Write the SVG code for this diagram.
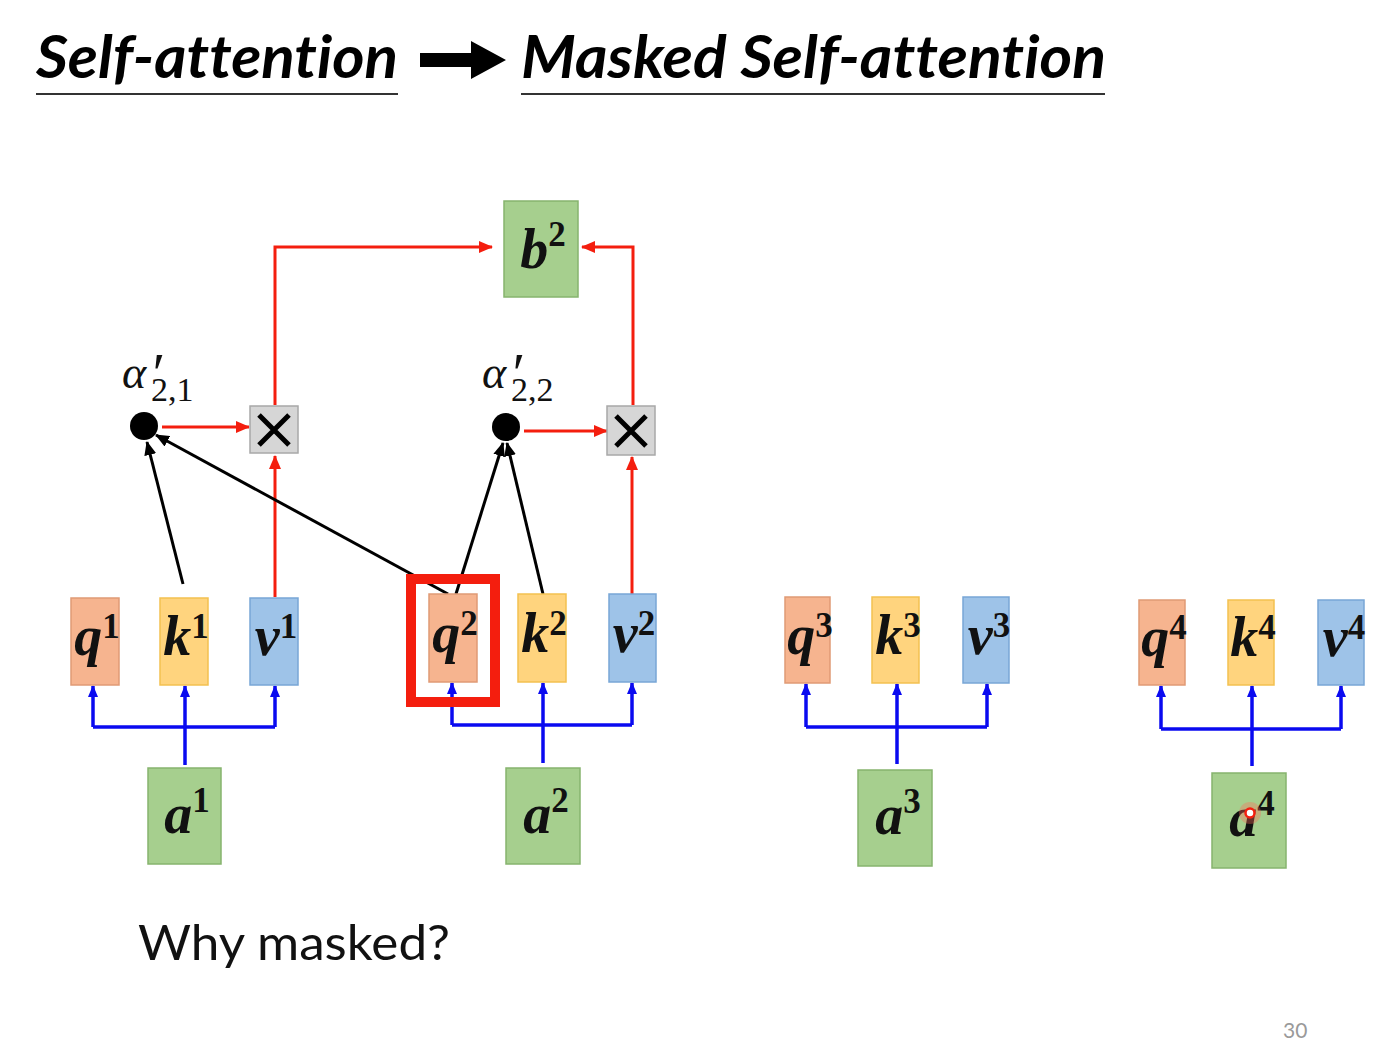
<svg xmlns="http://www.w3.org/2000/svg" width="1394" height="1052" viewBox="0 0 1394 1052">
<style>
.title{font-family:Lato,"Open Sans","Liberation Sans",sans-serif;font-weight:bold;font-style:italic;font-size:60px;fill:#000;font-variant-ligatures:none;font-feature-settings:"liga" 0,"dlig" 0}
.ul{stroke:#333;stroke-width:2}
.q{fill:#f6b48f;stroke:#e09a75;stroke-width:1.5}
.k{fill:#ffd47e;stroke:#f3c150;stroke-width:1.5}
.v{fill:#9ec3e8;stroke:#78a6d6;stroke-width:1.5}
.g{fill:#a6cf8e;stroke:#86b46e;stroke-width:1.5}
.x{fill:#d6d6d6;stroke:#a8a8a8;stroke-width:1.5}
.lbl{font-family:"Liberation Serif","DejaVu Serif",serif;font-weight:bold;font-style:italic;font-size:56px;fill:#111}
.sup{font-style:normal;font-size:35px}
.alpha{font-family:"Liberation Serif","DejaVu Serif",serif;font-style:italic;font-size:46px;fill:#111}
.prime{font-family:"Liberation Serif","DejaVu Serif",serif;font-style:italic;font-size:58px;fill:#111}
.sub{font-family:"Liberation Serif","DejaVu Serif",serif;font-size:34px;fill:#111}
.red{fill:none;stroke:#f41e0e;stroke-width:3}
.blk{fill:none;stroke:#000;stroke-width:3}
.blu{fill:none;stroke:#0a0af0;stroke-width:3.5}
.body{font-family:Lato,"Open Sans","Liberation Sans",sans-serif;font-size:48px;fill:#111}
</style>
<defs>
<marker id="ar" markerUnits="userSpaceOnUse" markerWidth="14" markerHeight="12" refX="13" refY="6" orient="auto"><path d="M0,0 L14,6 L0,12 Z" fill="#f41e0e"/></marker>
<marker id="ak" markerUnits="userSpaceOnUse" markerWidth="14" markerHeight="12" refX="13" refY="6" orient="auto"><path d="M0,0 L14,6 L0,12 Z" fill="#000"/></marker>
<marker id="ab" markerUnits="userSpaceOnUse" markerWidth="12" markerHeight="10" refX="11" refY="5" orient="auto"><path d="M0,0 L12,5 L0,10 Z" fill="#0a0af0"/></marker>
</defs>
<rect width="1394" height="1052" fill="#fff"/>

<g id="title">
<text class="title" x="36" y="78" textLength="362" lengthAdjust="spacingAndGlyphs">Self-attention</text>
<line class="ul" x1="36" y1="94" x2="398" y2="94"/>
<polygon points="420,53 471,53 471,41 506,60 471,79 471,67 420,67" fill="#000"/>
<text class="title" x="521" y="78" textLength="585" lengthAdjust="spacingAndGlyphs">Masked Self-attention</text>
<line class="ul" x1="521" y1="94" x2="1105" y2="94"/>
</g>

<g id="connectors">
<path class="red" d="M275,597 L275,456" marker-end="url(#ar)"/>
<path class="red" d="M162,427 L249,427" marker-end="url(#ar)"/>
<path class="red" d="M275,405 L275,247 L492,247" marker-end="url(#ar)"/>
<path class="red" d="M633,405 L633,247 L582,247" marker-end="url(#ar)"/>
<path class="red" d="M524,431 L607,431" marker-end="url(#ar)"/>
<path class="red" d="M632,594 L632,457" marker-end="url(#ar)"/>
<path class="blk" d="M183,584 L147,442" marker-end="url(#ak)"/>
<path class="blk" d="M448,594 L156,435" marker-end="url(#ak)"/>
<path class="blk" d="M456,594 L503,443" marker-end="url(#ak)"/>
<path class="blk" d="M543,594 L507,443" marker-end="url(#ak)"/>
<path class="blu" d="M93,727 L275,727"/>
<path class="blu" d="M185,765 L185,686" marker-end="url(#ab)"/>
<path class="blu" d="M93,727 L93,686" marker-end="url(#ab)"/>
<path class="blu" d="M275,727 L275,686" marker-end="url(#ab)"/>
<path class="blu" d="M452,725 L632,725"/>
<path class="blu" d="M543,763 L543,683" marker-end="url(#ab)"/>
<path class="blu" d="M452,725 L452,683" marker-end="url(#ab)"/>
<path class="blu" d="M632,725 L632,683" marker-end="url(#ab)"/>
<path class="blu" d="M806,727 L987,727"/>
<path class="blu" d="M897,764 L897,684" marker-end="url(#ab)"/>
<path class="blu" d="M806,727 L806,684" marker-end="url(#ab)"/>
<path class="blu" d="M987,727 L987,684" marker-end="url(#ab)"/>
<path class="blu" d="M1161,729 L1341,729"/>
<path class="blu" d="M1252,766 L1252,686" marker-end="url(#ab)"/>
<path class="blu" d="M1161,729 L1161,686" marker-end="url(#ab)"/>
<path class="blu" d="M1341,729 L1341,686" marker-end="url(#ab)"/>
</g>

<g id="b2"><rect class="g" x="504" y="201" width="74" height="96"/><text class="lbl" x="543" y="268" text-anchor="middle" font-size="60">b<tspan class="sup" dy="-22">2</tspan></text></g>

<g id="dot1"><circle cx="144" cy="426" r="14" fill="#000"/></g>
<g id="alpha21"><text class="alpha" x="122" y="388">α</text><text class="prime" x="149" y="393">′</text><text class="sub" x="151" y="401">2,1</text></g>
<g id="mul1"><rect class="x" x="250" y="406" width="48" height="47"/><path d="M259,415 L289,445 M289,415 L259,445" stroke="#000" stroke-width="5"/></g>

<g id="dot2"><circle cx="506" cy="427" r="14" fill="#000"/></g>
<g id="alpha22"><text class="alpha" x="482" y="388">α</text><text class="prime" x="509" y="393">′</text><text class="sub" x="511" y="401">2,2</text></g>
<g id="mul2"><rect class="x" x="607" y="406" width="48" height="49"/><path d="M616,416 L646,446 M646,416 L616,446" stroke="#000" stroke-width="5"/></g>

<g id="q1"><rect class="q" x="71" y="598" width="48" height="87"/><text class="lbl" x="97" y="655" text-anchor="middle">q<tspan class="sup" dy="-17">1</tspan></text></g>
<g id="k1"><rect class="k" x="160" y="598" width="48" height="87"/><text class="lbl" x="186" y="655" text-anchor="middle">k<tspan class="sup" dy="-17">1</tspan></text></g>
<g id="v1"><rect class="v" x="250" y="598" width="48" height="87"/><text class="lbl" x="276" y="655" text-anchor="middle">v<tspan class="sup" dy="-17">1</tspan></text></g>

<g id="q2"><rect class="q" x="429" y="594" width="48" height="88"/><text class="lbl" x="455" y="652" text-anchor="middle">q<tspan class="sup" dy="-17">2</tspan></text></g>
<g id="highlight"><rect x="411" y="579" width="84" height="123" fill="none" stroke="#f41e0e" stroke-width="10"/></g>
<g id="k2"><rect class="k" x="518" y="594" width="48" height="88"/><text class="lbl" x="544" y="652" text-anchor="middle">k<tspan class="sup" dy="-17">2</tspan></text></g>
<g id="v2"><rect class="v" x="609" y="594" width="47" height="88"/><text class="lbl" x="634" y="652" text-anchor="middle">v<tspan class="sup" dy="-17">2</tspan></text></g>

<g id="q3"><rect class="q" x="785" y="597" width="45" height="86"/><text class="lbl" x="810" y="654" text-anchor="middle">q<tspan class="sup" dy="-17">3</tspan></text></g>
<g id="k3"><rect class="k" x="872" y="597" width="47" height="86"/><text class="lbl" x="898" y="654" text-anchor="middle">k<tspan class="sup" dy="-17">3</tspan></text></g>
<g id="v3"><rect class="v" x="963" y="597" width="46" height="86"/><text class="lbl" x="989" y="654" text-anchor="middle">v<tspan class="sup" dy="-17">3</tspan></text></g>

<g id="q4"><rect class="q" x="1139" y="600" width="46" height="85"/><text class="lbl" x="1164" y="656" text-anchor="middle">q<tspan class="sup" dy="-17">4</tspan></text></g>
<g id="k4"><rect class="k" x="1228" y="600" width="46" height="85"/><text class="lbl" x="1253" y="656" text-anchor="middle">k<tspan class="sup" dy="-17">4</tspan></text></g>
<g id="v4"><rect class="v" x="1318" y="600" width="46" height="85"/><text class="lbl" x="1344" y="656" text-anchor="middle">v<tspan class="sup" dy="-17">4</tspan></text></g>

<g id="a1"><rect class="g" x="148" y="768" width="73" height="96"/><text class="lbl" x="187" y="833" text-anchor="middle" font-size="60">a<tspan class="sup" dy="-21">1</tspan></text></g>
<g id="a2"><rect class="g" x="506" y="768" width="74" height="96"/><text class="lbl" x="546" y="833" text-anchor="middle" font-size="60">a<tspan class="sup" dy="-21">2</tspan></text></g>
<g id="a3"><rect class="g" x="858" y="770" width="74" height="96"/><text class="lbl" x="898" y="834" text-anchor="middle" font-size="60">a<tspan class="sup" dy="-21">3</tspan></text></g>
<g id="a4"><rect class="g" x="1212" y="773" width="74" height="95"/><text class="lbl" x="1252" y="836" text-anchor="middle" font-size="60">a<tspan class="sup" dy="-21">4</tspan></text>
<circle cx="1250" cy="813" r="11" fill="#ff6a5a" opacity="0.35"/><circle cx="1250" cy="813" r="4.5" fill="#fff" stroke="#f41e0e" stroke-width="2.5"/></g>

<g id="footer">
<text class="body" x="138" y="960" textLength="312" lengthAdjust="spacingAndGlyphs">Why masked?</text>
<text x="1283" y="1038" font-family="Lato,'Liberation Sans',sans-serif" font-size="21" fill="#9a9a9a">30</text>
</g>
</svg>
